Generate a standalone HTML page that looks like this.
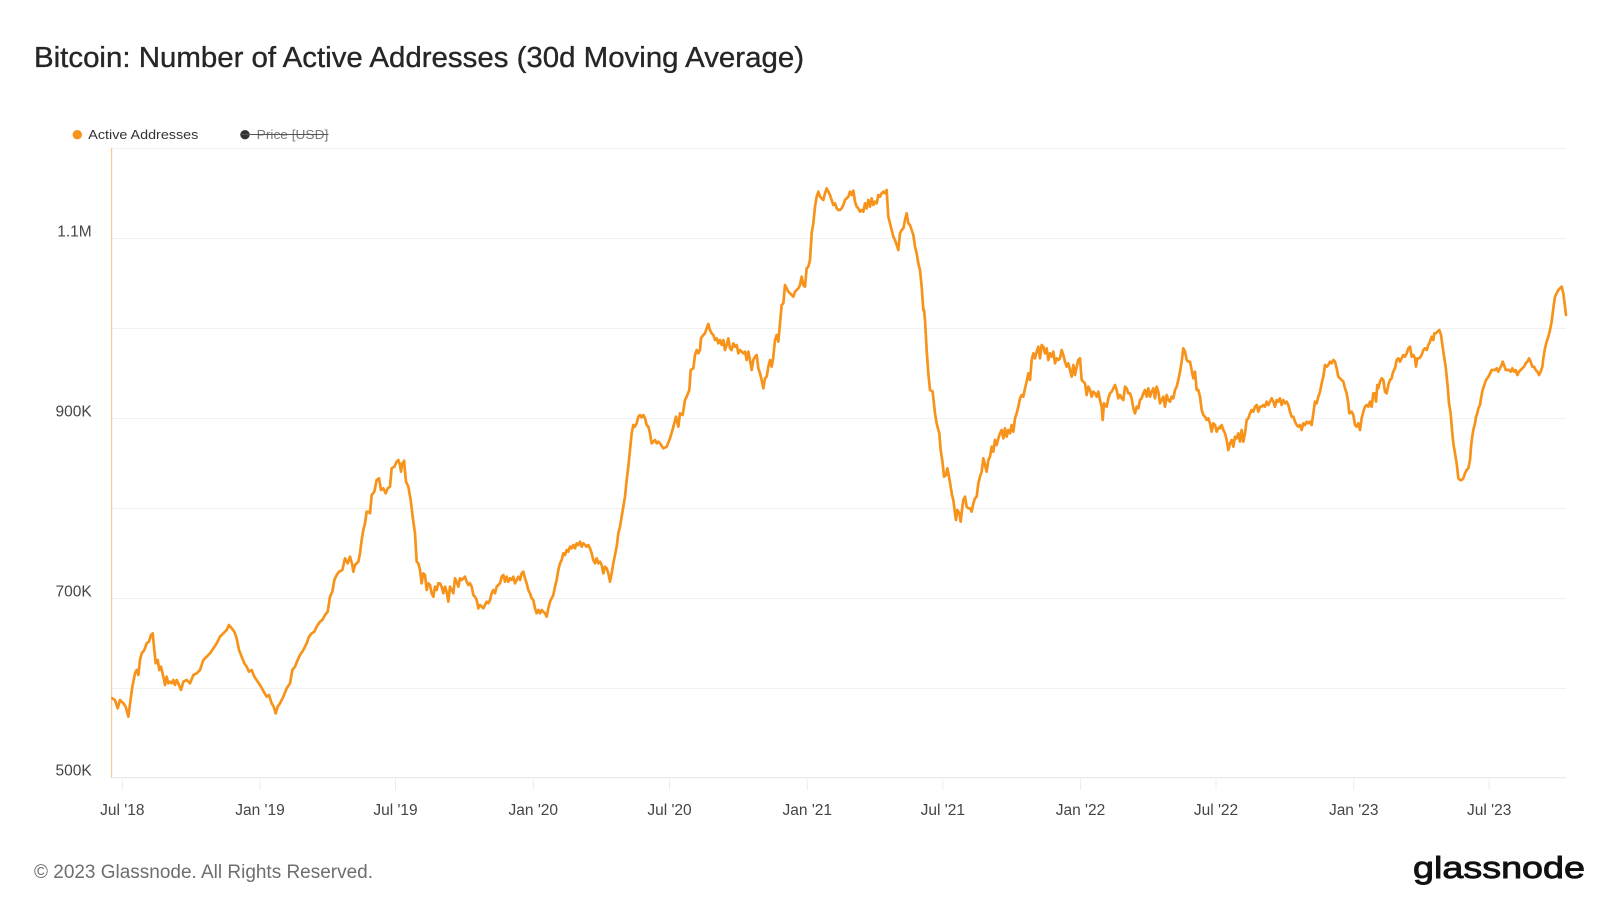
<!DOCTYPE html>
<html>
<head>
<meta charset="utf-8">
<style>
  html, body { margin: 0; padding: 0; background: #ffffff; }
  body { width: 1620px; height: 912px; overflow: hidden; }
  svg { display: block; }
  text { font-family: "Liberation Sans", "DejaVu Sans", sans-serif; }
</style>
</head>
<body>
<svg width="1620" height="912" viewBox="0 0 1620 912" xmlns="http://www.w3.org/2000/svg">
  <rect x="0" y="0" width="1620" height="912" fill="#ffffff"/>

  <!-- Title -->
  <text x="34" y="67" font-size="29" fill="#262626" stroke="#262626" stroke-width="0.35" textLength="770" lengthAdjust="spacingAndGlyphs">Bitcoin: Number of Active Addresses (30d Moving Average)</text>

  <!-- Legend -->
  <circle cx="77.3" cy="134.7" r="4.7" fill="#f7931a"/>
  <text x="88.3" y="139" font-size="13" fill="#333333" textLength="110" lengthAdjust="spacingAndGlyphs">Active Addresses</text>
  <circle cx="245" cy="134.7" r="4.7" fill="#333333"/>
  <text x="256.7" y="139" font-size="13" fill="#7a7a7a" textLength="71.6" lengthAdjust="spacingAndGlyphs">Price [USD]</text>
  <line x1="240" y1="134.5" x2="328.5" y2="134.5" stroke="#555555" stroke-width="1"/>

  <!-- Grid lines -->
  <g stroke="#f1f1f1" stroke-width="1">
    <line x1="111.7" y1="148.5" x2="1566" y2="148.5"/>
    <line x1="111.7" y1="238.5" x2="1566" y2="238.5"/>
    <line x1="111.7" y1="328.5" x2="1566" y2="328.5"/>
    <line x1="111.7" y1="418.5" x2="1566" y2="418.5"/>
    <line x1="111.7" y1="508.5" x2="1566" y2="508.5"/>
    <line x1="111.7" y1="598.5" x2="1566" y2="598.5"/>
    <line x1="111.7" y1="688.5" x2="1566" y2="688.5"/>
  </g>
  <line x1="111.7" y1="777.8" x2="1566" y2="777.8" stroke="#e4e4e4" stroke-width="1"/>

  <!-- X ticks -->
  <g stroke="#ececec" stroke-width="1">
    <line x1="122.3" y1="779" x2="122.3" y2="790"/>
    <line x1="260.0" y1="779" x2="260.0" y2="790"/>
    <line x1="395.5" y1="779" x2="395.5" y2="790"/>
    <line x1="533.3" y1="779" x2="533.3" y2="790"/>
    <line x1="669.5" y1="779" x2="669.5" y2="790"/>
    <line x1="807.3" y1="779" x2="807.3" y2="790"/>
    <line x1="942.8" y1="779" x2="942.8" y2="790"/>
    <line x1="1080.5" y1="779" x2="1080.5" y2="790"/>
    <line x1="1216.0" y1="779" x2="1216.0" y2="790"/>
    <line x1="1353.7" y1="779" x2="1353.7" y2="790"/>
    <line x1="1489.2" y1="779" x2="1489.2" y2="790"/>
  </g>

  <!-- Left axis line (orange) -->
  <line x1="111.6" y1="148" x2="111.6" y2="778" stroke="#f9c993" stroke-width="1.2"/>

  <!-- Y labels -->
  <g font-size="15.5" fill="#454545" text-anchor="end">
    <text x="91.7" y="236.5">1.1M</text>
    <text x="91.7" y="416.5">900K</text>
    <text x="91.7" y="596.5">700K</text>
    <text x="91.7" y="775.5">500K</text>
  </g>

  <!-- X labels -->
  <g font-size="15.5" fill="#454545" text-anchor="middle">
    <text x="122.3" y="815">Jul '18</text>
    <text x="260.0" y="815">Jan '19</text>
    <text x="395.5" y="815">Jul '19</text>
    <text x="533.3" y="815">Jan '20</text>
    <text x="669.5" y="815">Jul '20</text>
    <text x="807.3" y="815">Jan '21</text>
    <text x="942.8" y="815">Jul '21</text>
    <text x="1080.5" y="815">Jan '22</text>
    <text x="1216.0" y="815">Jul '22</text>
    <text x="1353.7" y="815">Jan '23</text>
    <text x="1489.2" y="815">Jul '23</text>
  </g>

  <!-- Series -->
  <g fill="none" stroke="#f7931a" stroke-width="2.7" stroke-linejoin="round" stroke-linecap="round">
    <g transform="translate(105,440) scale(0.333333)">
      <polyline vector-effect="non-scaling-stroke" points="22,775 30,780 38,805 45,780 55,790 62,800 70,830 78,770 82,740 90,700 95,690 100,705 105,660 110,640 118,630 125,610 132,605 138,585 143,580 148,630 152,670 158,660 163,690 168,680 175,710 180,735 185,710 190,730 195,725 200,730 205,720 210,735 215,720 220,730 228,750 235,725 245,720 255,730 265,705 275,700 285,690 295,660 305,650 315,640 325,625 335,610 345,590 355,580 365,570 372,555 380,565 388,575 395,595 402,630 410,650 418,670 425,680 432,695 440,690 448,710 458,725 468,740 476,755 485,770 492,765 500,790 506,800 512,820 518,800 525,790 535,770 545,745 555,730 562,690 570,680 578,660 585,645 595,630 605,610 612,590 620,580 628,575 635,560 645,545 652,540 660,525 668,515 675,470 682,455 688,420 695,405 702,395 712,390 720,355 728,370 735,350 742,375 745,395 750,375 760,365 765,340 770,300 775,270 780,250 785,215 790,215 795,220 800,165 808,155 815,120 822,115 828,150 835,145 842,160 848,145 855,140 860,85 868,80 875,65 880,60 885,75 888,95 892,70 898,65"/>
    </g>
    <g transform="translate(400,300) scale(0.333333)">
      <polyline vector-effect="non-scaling-stroke" points="12,482 18,545 25,560 32,600 38,650 45,700 50,785 55,790 60,810 65,850 70,820 75,825 80,870 85,850 90,855 95,880 100,890 105,860 110,870 115,850 120,850 125,860 130,880 135,860 140,875 145,905 150,860 155,870 160,880 165,835 170,845 175,860 180,835 185,840 190,835 195,830 200,845 205,855 210,850 215,860 220,885 225,890 230,900 235,925 240,915 245,920 250,925 255,915 260,905 265,910 270,900 275,880 280,870 285,880 290,860 295,855 300,850 305,830 310,825 315,845 320,830 325,845 330,835 335,840 340,830 345,850 350,840 355,830 360,840 365,820 370,815 375,835 380,850 385,870 390,880 395,895 400,900 405,925 410,940 415,930 420,940 425,930 430,935 435,940 440,950 445,925 450,905 455,895 460,885 465,860 470,840 475,810 480,790 485,780 490,760 495,765 500,750 505,755 510,740 515,745 520,735 525,745 530,730 535,735 540,725 545,740 550,730 555,735 560,740 565,735 570,745 575,760 580,780 585,790 590,775 595,790 600,785 605,795 610,820 615,800 620,805 625,820 630,845 635,820 640,790 645,765 650,740 655,700 660,680 665,650 670,620 675,590 680,540 685,500 690,450 695,400 700,375 705,380 710,370 715,350 720,345 725,352 730,345 735,355 740,375 745,380 750,400 755,430 760,425 765,420 770,430 775,425 780,430 790,445 800,440 810,415 820,381"/>
    </g>
    <g transform="translate(640,170) scale(0.333333)">
      <polyline vector-effect="non-scaling-stroke" points="100,770 108,740 115,770 120,730 128,735 135,690 140,680 148,660 152,600 160,595 165,555 170,540 175,550 180,540 183,505 190,495 195,490 200,475 205,462 210,480 215,490 220,495 225,510 230,505 235,520 240,510 245,525 250,510 255,540 260,525 265,505 270,535 275,540 280,520 285,530 290,525 295,550 300,540 305,545 310,550 315,545 320,570 325,545 330,570 335,600 340,570 345,560 350,555 355,595 360,610 365,630 370,655 375,625 380,620 385,590 390,570 395,590 400,560 405,510 410,495 415,515 420,460 425,405 430,400 435,345 440,355 445,365 450,370 455,375 460,380 465,365 470,360 475,355 480,345 485,320 490,345 495,350 500,295 505,290 510,270 515,190 520,160 525,110 530,80 535,65 540,80 545,85 550,90 555,70 560,55 565,65 570,75 575,90 580,105 585,100 590,115 595,120 600,120 605,115 610,105 615,90 620,85 625,80 630,65 635,75 640,62 645,95 650,110 655,115 660,125 665,120 670,125 675,100 680,115 685,90 690,110 695,85 700,105 705,95 710,100 715,75 720,80 725,70 730,65 735,70 740,60 745,140 750,160 755,180 760,200 765,210 770,225 775,240 780,190 785,180 790,175 795,150 800,130 805,160 810,165 815,180 820,195 825,230 830,250 835,280 840,300 845,350 850,420"/>
    </g>
    <g transform="translate(920,300) scale(0.333333)">
      <polyline vector-effect="non-scaling-stroke" points="12,30 15,60 20,150 25,220 30,270 38,275 45,340 50,370 55,390 58,400 62,450 68,490 72,530 78,525 82,505 88,535 92,560 96,585 100,600 105,640 108,660 112,630 118,640 122,665 126,630 130,600 135,590 140,620 145,625 150,625 155,635 160,610 165,595 170,590 175,550 180,530 185,515 190,475 195,495 200,515 205,480 210,470 215,440 220,455 225,420 230,435 235,415 240,400 245,390 250,415 255,385 260,410 265,390 270,400 275,375 280,395 285,355 290,340 295,320 300,295 305,285 310,290 315,265 320,245 325,220 330,240 335,180 340,160 345,175 350,155 355,140 360,175 365,135 370,140 375,160 380,145 385,180 390,160 395,170 400,155 405,190 410,175 415,180 420,175 425,150 430,165 435,185 440,200 445,190 450,210 455,230 460,195 465,225 470,200 475,180 480,175 485,240 490,245 495,250 500,285 505,260 510,270 515,290 520,275 525,280 530,290 535,275 540,300 545,320 548,360 552,310 555,315 560,320 565,295 570,280 575,275 580,265 585,255 590,270 595,295 600,285 605,295 610,300 615,260 620,265 625,280 630,280 635,295 640,325 645,340 650,320 655,325 660,300 665,295 670,280 675,270 680,290 685,265 690,290 695,275 700,265 705,295 710,260 715,275 720,310 725,300 730,290 735,320 740,285 745,300 750,305 755,290 760,295 765,270 770,260 775,240 780,215 785,185 790,145 795,155 800,180 805,185 810,185 815,210 820,235 825,215 830,270 835,270 840,290 845,330 850,345 855,350 860,360 865,355 870,370 875,395 880,370 885,375 890,395 895,385 900,380"/>
    </g>
    <g transform="translate(1210,270) scale(0.333333)">
      <polyline vector-effect="non-scaling-stroke" points="30,475 35,465 40,480 45,490 50,510 55,540 60,520 65,510 70,530 75,500 80,505 85,490 90,515 95,480 100,515 105,490 110,450 115,445 120,430 125,420 130,425 135,410 140,405 145,425 150,410 155,410 160,405 165,410 170,395 175,405 180,395 185,385 190,395 195,410 200,390 205,395 210,385 215,405 220,390 225,400 230,395 235,405 240,425 245,440 250,440 255,455 260,465 265,470 270,465 275,480 280,460 285,465 290,455 295,460 300,455 305,465 310,430 315,395 320,400 325,380 330,365 335,340 340,320 345,285 350,290 355,285 360,275 365,280 370,270 375,275 380,295 385,320 390,325 395,330 400,335 405,355 410,370 415,400 418,430 425,425 430,435 435,465 440,470 445,460 450,480 455,445 460,425 465,410 470,405 475,410 480,395 485,410 490,370 495,370 498,395 502,345 505,355 510,335 515,325 520,330 525,365 530,370 535,345 540,330"/>
    </g>
    <g transform="translate(1380,270) scale(0.333333)">
      <polyline vector-effect="non-scaling-stroke" points="30,330 35,325 38,310 42,300 45,295 50,270 55,265 60,275 65,265 70,255 75,260 80,250 85,235 90,230 95,260 100,255 105,265 108,290 112,265 118,265 125,255 130,240 135,235 140,240 145,225 150,215 155,200 160,210 163,190 168,190 172,185 178,180 183,195 188,230 193,265 197,290 200,320 203,350 207,400 212,430 216,480 220,520 225,550 230,580 235,625 240,630 245,630 250,625 255,610 260,600 265,595 270,570 273,530 276,505 280,480 285,460 288,440 292,430 295,415 300,405 303,385 308,360 313,345 318,330 322,325 328,315 335,300 340,300 345,300 350,295 355,305 360,295 365,285 368,275 372,285 377,300 382,300 387,300 392,305 397,295 402,305 407,300 412,315 417,305 422,300 427,295 432,290 437,280 442,275 447,265 452,275 457,290 462,290 467,300 472,305 477,315 482,305 487,290 490,265 495,235 500,215 505,200 510,180 515,155 518,130 522,100 525,80 530,70 535,60 540,55 545,50 550,70 555,110 558,135"/>
    </g>
  </g>

  <!-- Footer -->
  <text x="34" y="878" font-size="19" fill="#6e6e6e" textLength="339" lengthAdjust="spacingAndGlyphs">© 2023 Glassnode. All Rights Reserved.</text>
  <text x="1413" y="878" font-size="31" fill="#111111" stroke="#111111" stroke-width="0.9" textLength="172" lengthAdjust="spacingAndGlyphs">glassnode</text>
</svg>
</body>
</html>
